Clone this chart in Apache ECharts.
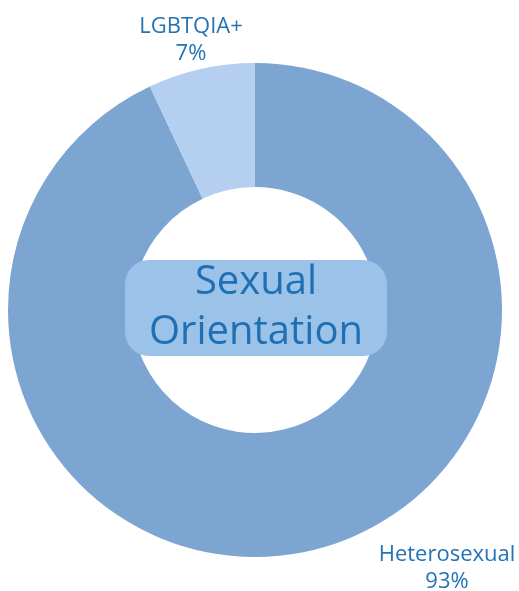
<!DOCTYPE html>
<html>
<head>
<meta charset="utf-8">
<script src="https://cdn.jsdelivr.net/npm/echarts@6/dist/echarts.min.js"></script>
<style>
  html, body { margin: 0; padding: 0; background: #fff; }
  #main { width: 519px; height: 591px; }
</style>
</head>
<body>
<div id="main"></div>
<script>
var categories = ['Heterosexual', 'LGBTQIA+'];
var shares = [93, 7];
var sliceColors = ['#7DA5D1', '#B4CFEF'];
var centerTitle = 'Sexual\nOrientation';

// where the two outside labels sit
var labelSpots = [[447, 568], [191, 40]];

var myChart = echarts.init(document.getElementById('main'));
var fontFam = '"Open Sans", "Noto Sans", sans-serif';

var option = {
    animation: false,
    graphic: [
        {
            type: 'rect',
            left: 125,
            top: 260,
            shape: { width: 262, height: 96, r: 24 },
            style: { fill: '#9BC3EA' },
            z: 10
        },
        {
            type: 'text',
            x: 256,
            y: 308,
            style: {
                text: centerTitle,
                fill: '#1F6FB2',
                font: '40px ' + fontFam,
                lineHeight: 50,
                align: 'center',
                verticalAlign: 'middle'
            },
            z: 11
        }
    ],
    series: [
        {
            type: 'pie',
            center: [255, 310],
            radius: [123, 247],
            startAngle: 90,
            clockwise: true,
            silent: true,
            data: categories.map(function (c, i) {
                return { name: c, value: shares[i], itemStyle: { color: sliceColors[i] } };
            }),
            label: {
                show: true,
                position: 'outside',
                formatter: '{b}\n{d}%',
                color: '#2373B5',
                fontFamily: fontFam,
                fontSize: 22,
                lineHeight: 27,
                align: 'center'
            },
            labelLine: { show: false },
            labelLayout: function (params) {
                var p = labelSpots[params.dataIndex];
                return { x: p[0], y: p[1], align: 'center', verticalAlign: 'middle' };
            }
        }
    ]
};
myChart.setOption(option);
</script>
</body>
</html>
